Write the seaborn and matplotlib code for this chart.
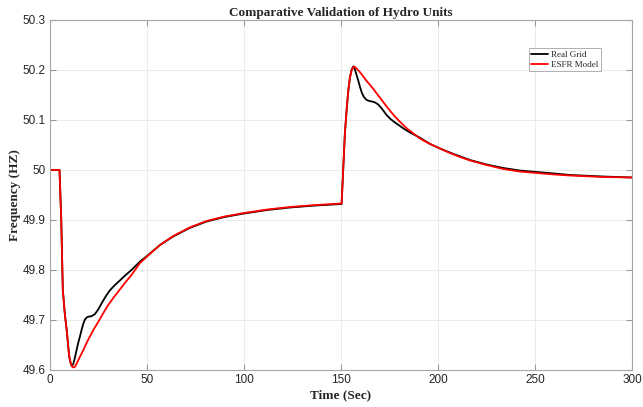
import numpy as np
import pandas as pd
import matplotlib
matplotlib.use("Agg")
import matplotlib.pyplot as plt
import seaborn as sns

# Real Grid (black) readings
real_t = [0, 4.9, 5.8, 6.6, 7.7, 8.6, 9.9, 10.6, 11.2, 12.0, 12.8, 13.7, 14.6, 15.5, 16.4, 17.2,
          18.0, 18.9, 20.0, 21.0, 22.0, 23.2, 25.0, 27.0, 29.0, 31.0, 33.5, 36.0, 39.0, 42.0,
          46.4, 50.0, 56.7, 63.5, 72.0, 80.7, 90.0, 100.0, 112.0, 123.7, 137.0, 150.3,
          151.0, 152.0, 153.0, 153.8, 154.6, 155.4, 156.3, 157.0, 157.8, 158.8, 159.8, 160.8,
          161.8, 163.2, 164.6, 166.0, 167.6, 169.2, 171.0, 173.5, 175.5, 177.5, 180.4, 183.0,
          185.6, 190.5, 195.9, 201.0, 208.0, 216.5, 225.0, 233.7, 242.0, 250.9, 260.0, 268.0,
          285.0, 300.0]
real_f = [50.0, 50.0, 49.9, 49.76, 49.71, 49.68, 49.627, 49.614, 49.608, 49.612, 49.624, 49.640, 49.655, 49.668, 49.682, 49.693,
          49.701, 49.705, 49.707, 49.707, 49.709, 49.712, 49.722, 49.736, 49.749, 49.760, 49.770, 49.779, 49.790, 49.800,
          49.817, 49.828, 49.850, 49.867, 49.884, 49.897, 49.906, 49.913, 49.920, 49.925, 49.929, 49.932,
          49.99, 50.073, 50.125, 50.160, 50.185, 50.200, 50.207, 50.203, 50.193, 50.180, 50.166, 50.154,
          50.146, 50.140, 50.138, 50.137, 50.135, 50.131, 50.123, 50.110, 50.102, 50.096, 50.088, 50.081,
          50.075, 50.065, 50.052, 50.043, 50.032, 50.020, 50.011, 50.004, 49.999, 49.996, 49.993, 49.990,
          49.987, 49.985]

# ESFR Model (red) readings
esfr_t = [0, 4.9, 5.8, 6.6, 7.7, 8.6, 9.9, 10.8, 11.6, 12.3, 13.0, 14.0, 15.5, 17.2, 18.6, 20.0,
          22.5, 25.0, 27.5, 30.0, 33.0, 36.0, 39.0, 42.0, 46.4, 50.0, 56.7, 63.5, 72.0, 80.7,
          90.0, 100.0, 112.0, 123.7, 137.0, 150.3,
          151.0, 152.0, 153.0, 153.8, 154.6, 155.4, 156.0, 156.7, 157.5, 158.5, 159.5, 160.5,
          161.5, 163.2, 165.0, 166.7, 168.4, 171.0, 173.5, 175.8, 178.0, 180.0, 182.1, 184.0,
          186.0, 188.3, 190.7, 193.0, 195.0, 199.3, 205.0, 210.0, 216.5, 225.0, 233.7, 242.0,
          250.9, 260.0, 268.0, 285.0, 300.0]
esfr_f = [50.0, 50.0, 49.9, 49.76, 49.71, 49.68, 49.627, 49.612, 49.606, 49.605, 49.607, 49.615, 49.627, 49.640, 49.652, 49.663,
          49.681, 49.697, 49.714, 49.730, 49.746, 49.761, 49.776, 49.790, 49.814, 49.827, 49.850, 49.868, 49.885, 49.898,
          49.907, 49.914, 49.921, 49.926, 49.930, 49.933,
          49.99, 50.073, 50.125, 50.160, 50.185, 50.198, 50.204, 50.207, 50.205, 50.201, 50.197, 50.192,
          50.187, 50.178, 50.170, 50.162, 50.153, 50.140, 50.127, 50.116, 50.106, 50.098, 50.090, 50.083,
          50.077, 50.070, 50.063, 50.058, 50.054, 50.046, 50.036, 50.028, 50.019, 50.010, 50.002, 49.997,
          49.994, 49.991, 49.989, 49.986, 49.985]

series_names = ["Real Grid", "ESFR Model"]
x_ticks = [0, 50, 100, 150, 200, 250, 300]
y_ticks = [49.6, 49.7, 49.8, 49.9, 50.0, 50.1, 50.2, 50.3]
y_tick_labels = ["49.6", "49.7", "49.8", "49.9", "50", "50.1", "50.2", "50.3"]

df = pd.concat([
    pd.DataFrame({"t": real_t, "f": real_f, "series": series_names[0]}),
    pd.DataFrame({"t": esfr_t, "f": esfr_f, "series": series_names[1]}),
], ignore_index=True)

sns.set_style("white")
serif = ["Liberation Serif", "DejaVu Serif"]
sans = ["Liberation Sans", "DejaVu Sans"]

fig = plt.figure(figsize=(6.43, 4.07), dpi=100)
ax = fig.add_axes([50 / 643, 1 - 370 / 407, (632 - 50) / 643, (370 - 20) / 407])

sns.lineplot(data=df, x="t", y="f", hue="series", hue_order=series_names,
             palette={"Real Grid": "#000000", "ESFR Model": "#ff0000"},
             linewidth=1.3, ax=ax, sort=False, estimator=None)

ax.set_xlim(0, 300)
ax.set_ylim(49.6, 50.3)
ax.set_xticks(x_ticks)
ax.set_yticks(y_ticks)
ax.set_xticklabels([str(v) for v in x_ticks], fontfamily=sans, fontsize=8.5, color="#262626")
ax.set_yticklabels(y_tick_labels, fontfamily=sans, fontsize=8.5, color="#262626")
ax.grid(True, color="#ebebeb", linewidth=0.7)
ax.tick_params(direction="in", length=4, color="#999999", top=True, right=True,
               bottom=True, left=True, pad=3)
for s in ax.spines.values():
    s.set_color("#a6a6a6")
    s.set_linewidth(0.8)

ax.set_title("Comparative Validation of Hydro Units", fontfamily=serif,
             fontweight="bold", fontsize=9.5, pad=3)
ax.set_xlabel("Time (Sec)", fontfamily=serif, fontweight="bold", fontsize=9.5, labelpad=2)
ax.set_ylabel("Frequency (HZ)", fontfamily=serif, fontweight="bold", fontsize=9.5, labelpad=1)

leg = ax.legend(loc="upper right", bbox_to_anchor=(0.947, 0.92), borderaxespad=0,
                prop={"family": serif, "size": 6.5},
                frameon=True, fancybox=False, handlelength=1.9, handletextpad=0.3,
                borderpad=0.3, labelspacing=0.15)
leg.get_frame().set_edgecolor("#8c8c8c")
leg.get_frame().set_linewidth(0.6)

fig.savefig("out.png", dpi=100)
